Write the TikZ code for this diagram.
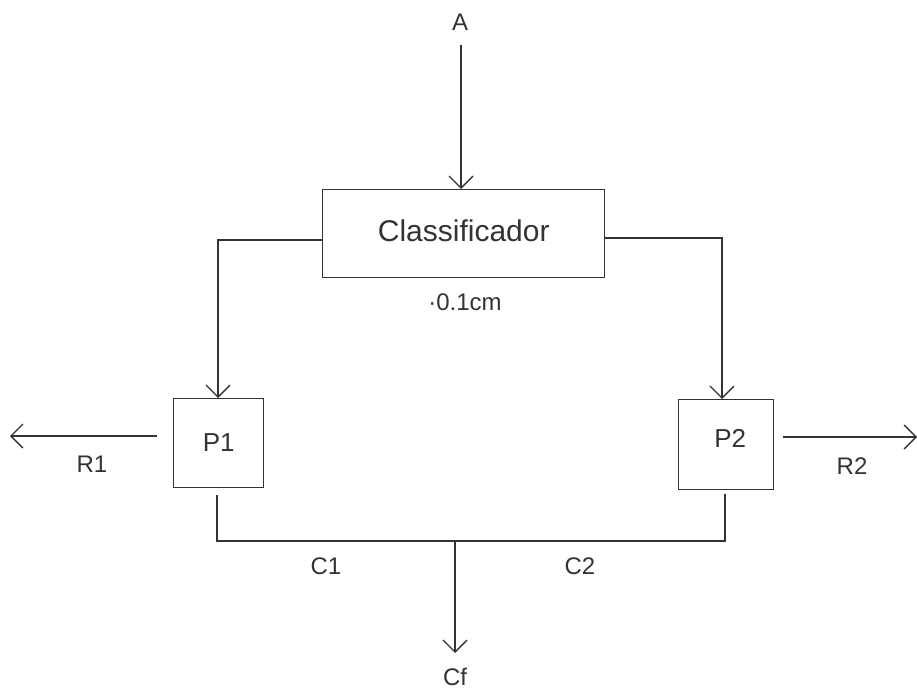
\documentclass[tikz,border=0pt]{standalone}
\usepackage{fontspec}
\setmainfont{Liberation Sans}
\usetikzlibrary{arrows.meta,calc}
\definecolor{ink}{HTML}{333333}
\begin{document}
\begin{tikzpicture}[x=1pt,y=-1pt,
  line/.style={draw=ink,line width=1.4pt},
  arr/.style={line,-{Straight Barb[length=12pt,width=24pt,line width=1.3pt]}},
  box/.style={draw=ink,line width=1.4pt,inner sep=0pt,anchor=north west},
  lbl/.style={text=ink,inner sep=0pt,font=\fontsize{24}{28}\selectfont}]
\useasboundingbox (0,0) rectangle (917,692);
% boxes
\node[box,minimum width=282pt,minimum height=88pt] (cls) at (322,189) {};
\node[text=ink,font=\fontsize{30}{34}\selectfont] (clst) at ($(cls.center)+(0,-3)$) {Classificador};
\node[box,minimum width=90pt,minimum height=89pt] (p1) at (173,398) {};
\node[text=ink,font=\fontsize{26}{30}\selectfont] (p1t) at ($(p1.center)+(0,-1)$) {P1};
\node[box,minimum width=95pt,minimum height=90pt] (p2) at (678,399) {};
\node[text=ink,font=\fontsize{26}{30}\selectfont] (p2t) at ($(p2.center)+(4,-6)$) {P2};
% labels
\node[lbl] (a) at (460,22) {A};
\node[lbl] (dim) at (465,302) {·0.1cm};
\node[lbl] (r1) at (92,464) {R1};
\node[lbl] (r2) at (852,466) {R2};
\node[lbl] (c1) at (326,566) {C1};
\node[lbl] (c2) at (580,566) {C2};
\node[lbl] (cf) at (455,677) {Cf};
% coordinates
\coordinate (atop) at (461,45);
\coordinate (lc) at (218,240);
\coordinate (rc) at (722,238);
\coordinate (r1end) at (10,436);
\coordinate (r2end) at (917,437);
\coordinate (bl) at (217,541);
\coordinate (br) at (725,541);
\coordinate (bm) at (455,541);
\coordinate (cfend) at (455,653);
% connectors
\draw[arr] (atop) -- (atop |- cls.north);
\draw[arr] (cls.west |- lc) -- (lc) -- (lc |- p1.north);
\draw[arr] (cls.east |- rc) -- (rc) -- (rc |- p2.north);
\draw[arr,shorten <=16pt] (p1.west |- r1end) -- (r1end);
\draw[arr,shorten <=9pt] (p2.east |- r2end) -- (r2end);
\draw[line] ($(bl |- p1.south)+(0,7)$) -- (bl) -- (br) -- ($(br |- p2.south)+(0,4)$);
\draw[arr] (bm) -- (cfend);
\end{tikzpicture}
\end{document}
